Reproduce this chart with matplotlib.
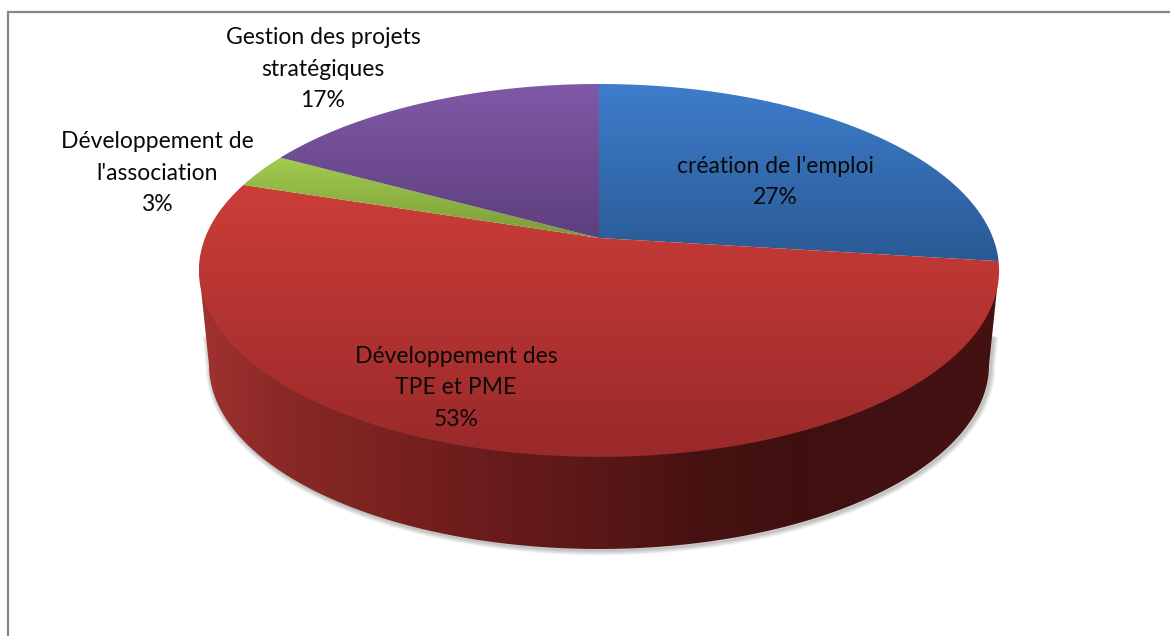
import numpy as np
from matplotlib import pyplot as plt
from matplotlib.patches import Polygon
from matplotlib.colors import LinearSegmentedColormap

labels = ["création de l'emploi", "Développement des\nTPE et PME", "Développement de\nl'association", "Gestion des projets\nstratégiques"]
values = [27, 53, 3, 17]
top_colors = ['#3e7dcc', '#cc3d38', '#a3cc50', '#8059a8']
low_colors = ['#2a5a94', '#99292a', '#7b9a38', '#5e3f7c']
label_pos = [(775, 181), (456, 387), (157, 172), (323, 68)]

plt.rcParams['font.family'] = ['Lato', 'DejaVu Sans']

fig = plt.figure(figsize=(11.7, 6.36), dpi=100)
ax = fig.add_axes([0, 0, 1, 1])
ax.set_xlim(0, 1170)
ax.set_ylim(636, 0)
ax.axis('off')

# pie seen in perspective, disc points get mapped to pixels
cx, cy = 599, 238
k = 0.174
A = 180.8
B = 394.0
depth_rx, depth_ry = 390, 184
depth_cy = 365


def project(theta):
	x = np.sin(theta)
	y = np.cos(theta)
	d = 1 + k*y
	return cx + B*x/d, cy - A*y/d


def grad_patch(verts, c1, c2):
	cmap = LinearSegmentedColormap.from_list('g', [c1, c2])
	p = Polygon(verts, closed=True, fc='none', ec='none', transform=ax.transData)
	ax.add_patch(p)
	ymin, ymax = verts[:, 1].min(), verts[:, 1].max()
	xmin, xmax = verts[:, 0].min(), verts[:, 0].max()
	im = ax.imshow(np.linspace(0, 1, 256).reshape(-1, 1), cmap=cmap, aspect='auto',
		extent=[xmin, xmax, ymax, ymin], zorder=3)
	im.set_clip_path(p)


# side wall
t = np.linspace(0, np.pi, 300)
arc = np.column_stack([cx + depth_rx*np.cos(t), depth_cy + depth_ry*np.sin(t)])
wall = np.vstack([arc, [[199, 270], [999, 270]]])

# soft shadow, only along the lower part of the wall
edge = np.vstack([[[992, 335]], arc, [[206, 335]]]) + [1.5, 1.5]
for i in range(6):
	ax.plot(edge[:, 0], edge[:, 1], color='#000000', lw=1 + i*1.2, alpha=0.045, zorder=1,
		solid_capstyle='butt')

xs = [199, 280, 400, 480, 600, 700, 800, 1000]
rs = [0.63, 0.54, 0.47, 0.42, 0.35, 0.28, 0.25, 0.27]
gs = [0.20, 0.16, 0.13, 0.11, 0.09, 0.07, 0.06, 0.07]
bs = [0.19, 0.15, 0.12, 0.11, 0.09, 0.07, 0.06, 0.07]
col = np.linspace(199, 1000, 801)
img = np.dstack([np.interp(col, xs, rs), np.interp(col, xs, gs), np.interp(col, xs, bs)]).reshape(1, -1, 3)
wp = Polygon(wall, closed=True, fc='none', ec='none')
ax.add_patch(wp)
im = ax.imshow(img, aspect='auto', extent=[199, 1000, 550, 260], zorder=2)
im.set_clip_path(wp)

# top face slices
fracs = np.cumsum([0] + values)/float(sum(values))
for i in range(len(values)):
	t = np.linspace(fracs[i], fracs[i + 1], 200)*2*np.pi
	px, py = project(t)
	verts = np.vstack([[[cx, cy]], np.column_stack([px, py])])
	grad_patch(verts, top_colors[i], low_colors[i])

# labels
for lab, v, pos in zip(labels, values, label_pos):
	ax.text(pos[0], pos[1] + 1, '%s\n%d%%' % (lab, v), ha='center', va='center', fontsize=16.5,
		color='#0a0a0a', linespacing=1.6, zorder=5)

# frame, only top and left are visible
ax.plot([8, 8, 1170], [636, 12, 12], color='#868686', lw=1.6, zorder=6, solid_joinstyle='miter')

ax.set_xlim(0, 1170)
ax.set_ylim(636, 0)
fig.savefig('out.png', dpi=100)
